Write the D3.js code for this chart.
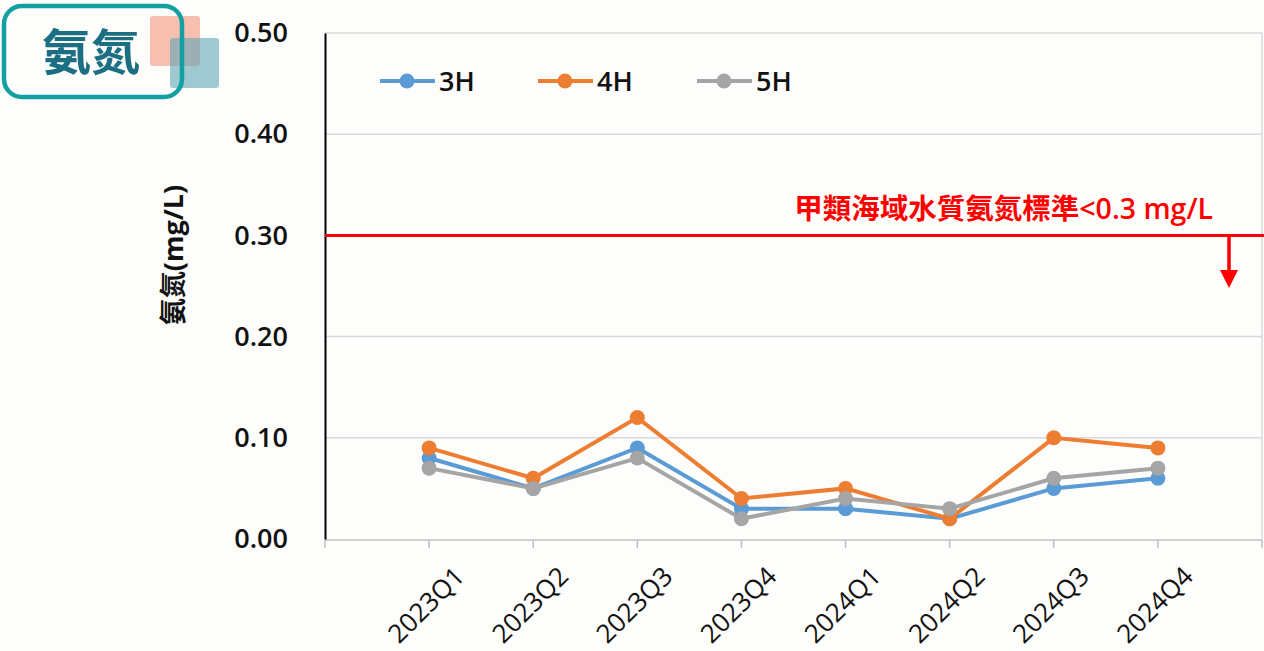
<!DOCTYPE html>
<html>
<head>
<meta charset="utf-8">
<script src="https://cdn.jsdelivr.net/npm/d3@7"></script>
<style>
  body { margin: 0; background: #fdfdfb; }
</style>
</head>
<body>
<script>
// categories & series
var quarters = ["2023Q1", "2023Q2", "2023Q3", "2023Q4", "2024Q1", "2024Q2", "2024Q3", "2024Q4"];
var h3 = [0.08, 0.05, 0.09, 0.03, 0.03, 0.02, 0.05, 0.06];
var h4 = [0.09, 0.06, 0.12, 0.04, 0.05, 0.02, 0.10, 0.09];
var h5 = [0.07, 0.05, 0.08, 0.02, 0.04, 0.03, 0.06, 0.07];
var seriesNames = ["3H", "4H", "5H"];
var yTicks = [0, 0.1, 0.2, 0.3, 0.4, 0.5];
var standard = 0.3;
var standardLabel = "甲類海域水質氨氮標準<0.3 mg/L";

var colors = ["#5b9bd5", "#ed7d31", "#a5a5a5"];
var series = [h3, h4, h5];

var latin = "'Open Sans', 'Noto Sans', sans-serif";
var cjk = "'Noto Sans CJK TC', 'Noto Sans', sans-serif";

var width = 1264, height = 651;
var plotL = 325, plotR = 1262, plotT = 33, plotB = 539;

var svg = d3.select("body").append("svg")
    .attr("width", width)
    .attr("height", height);

//scales
var x = d3.scalePoint().domain(quarters).range([plotL, plotR]).padding(1);
var y = d3.scaleLinear().domain([0, 0.5]).range([plotB, plotT]);

//gridlines
svg.append("g")
  .selectAll("line")
  .data(yTicks.slice(1))
  .enter().append("line")
    .attr("x1", plotL).attr("x2", plotR)
    .attr("y1", function(d) { return y(d); })
    .attr("y2", function(d) { return y(d); })
    .attr("stroke", "#d9d9d9")
    .attr("stroke-width", 1.5);

//right border
svg.append("line")
  .attr("x1", plotR).attr("x2", plotR)
  .attr("y1", plotT).attr("y2", plotB)
  .attr("stroke", "#d9d9d9").attr("stroke-width", 1.5);

//x axis - ticks at each step incl. ends
var step = x.step();
var tickPos = d3.range(0, quarters.length + 2).map(function(i) { return plotL + i * step; });
svg.append("line")
  .attr("x1", plotL).attr("x2", plotR)
  .attr("y1", plotB + 1).attr("y2", plotB + 1)
  .attr("stroke", "#bfbfbf").attr("stroke-width", 1.5);
svg.append("g").selectAll("line")
  .data(tickPos)
  .enter().append("line")
    .attr("x1", function(d) { return d; }).attr("x2", function(d) { return d; })
    .attr("y1", plotB + 1).attr("y2", plotB + 9)
    .attr("stroke", "#bfbfbf").attr("stroke-width", 1.5);

svg.append("g").selectAll("text")
  .data(quarters)
  .enter().append("text")
    .attr("transform", function(d) { return "translate(" + (x(d) - 3) + ",605) rotate(-45)"; })
    .attr("text-anchor", "middle")
    .attr("dy", "0.35em")
    .attr("font-size", 26)
    .attr("fill", "#111")
    .style("font-family", latin)
    .text(function(d) { return d; });

//y axis
var yAxis = svg.append("g")
  .attr("transform", "translate(" + plotL + ",0)")
  .call(d3.axisLeft(y).tickValues(yTicks).tickSize(0).tickPadding(37).tickFormat(d3.format(".2f")));
yAxis.select(".domain").attr("stroke", "#000").attr("stroke-width", 2);
yAxis.selectAll("text")
  .attr("font-size", 27)
  .attr("font-weight", 600)
  .attr("fill", "#111")
  .style("font-family", latin);

//y title
var yt = svg.append("text")
  .attr("transform", "translate(174," + 255 + ") rotate(-90)")
  .attr("text-anchor", "middle")
  .attr("dy", "0.35em")
  .attr("font-size", 27)
  .attr("font-weight", "bold")
  .attr("fill", "#111")
  .style("font-family", cjk);
yt.append("tspan").text("氨氮");
yt.append("tspan").style("font-family", latin).text("(mg/L)");

//standard line
svg.append("line")
  .attr("x1", plotL).attr("x2", width)
  .attr("y1", y(standard)).attr("y2", y(standard))
  .attr("stroke", "#ff0000").attr("stroke-width", 3);
var st = svg.append("text")
  .attr("x", 1213).attr("y", y(standard) - 16)
  .attr("text-anchor", "end")
  .attr("font-size", 28.5)
  .attr("font-weight", "bold")
  .attr("fill", "#ff0000")
  .style("font-family", cjk);
st.append("tspan").text(standardLabel.split("<")[0]);
st.append("tspan").style("font-family", latin).attr("font-weight", 600).text("<" + standardLabel.split("<")[1]);
svg.append("line")
  .attr("x1", 1229).attr("x2", 1229)
  .attr("y1", y(standard)).attr("y2", 272)
  .attr("stroke", "#ff0000").attr("stroke-width", 3.5);
svg.append("path")
  .attr("d", "M1220,270 L1238,270 L1229,288 Z")
  .attr("fill", "#ff0000");

//lines + markers
var line = d3.line()
  .x(function(d, i) { return x(quarters[i]); })
  .y(function(d) { return y(d); });

series.forEach(function(s, k) {
  var g = svg.append("g");
  g.append("path")
    .datum(s)
    .attr("d", line)
    .attr("fill", "none")
    .attr("stroke", colors[k])
    .attr("stroke-width", 4);
  g.selectAll("circle")
    .data(s)
    .enter().append("circle")
      .attr("cx", function(d, i) { return x(quarters[i]); })
      .attr("cy", function(d) { return y(d); })
      .attr("r", 7.5)
      .attr("fill", colors[k]);
});

//legend
var legendX = [380, 538, 697];
var lg = svg.append("g").selectAll("g")
  .data(seriesNames)
  .enter().append("g")
    .attr("transform", function(d, i) { return "translate(" + legendX[i] + ",81)"; });
lg.append("line")
  .attr("x1", 0).attr("x2", 55)
  .attr("stroke", function(d, i) { return colors[i]; })
  .attr("stroke-width", 4);
lg.append("circle")
  .attr("cx", 27).attr("r", 7.5)
  .attr("fill", function(d, i) { return colors[i]; });
lg.append("text")
  .attr("x", 59).attr("dy", "0.36em")
  .attr("font-size", 27)
  .attr("font-weight", 600)
  .attr("fill", "#111")
  .style("font-family", latin)
  .text(function(d) { return d; });

//title badge
svg.append("rect")
  .attr("x", 150).attr("y", 16).attr("width", 50).attr("height", 50).attr("rx", 3)
  .attr("fill", "#f4a48e").attr("opacity", 0.7);
svg.append("rect")
  .attr("x", 170).attr("y", 38).attr("width", 49).attr("height", 50).attr("rx", 3)
  .attr("fill", "#5fa6b5").attr("opacity", 0.6);
svg.append("rect")
  .attr("x", 4).attr("y", 6).attr("width", 178).attr("height", 91).attr("rx", 18)
  .attr("fill", "none")
  .attr("stroke", "#12a0a2").attr("stroke-width", 4.5);
svg.append("text")
  .attr("x", 91).attr("y", 70)
  .attr("text-anchor", "middle")
  .attr("font-size", 49)
  .attr("font-weight", "bold")
  .attr("fill", "#1c6f82")
  .style("font-family", cjk)
  .text("氨氮");
</script>
</body>
</html>
